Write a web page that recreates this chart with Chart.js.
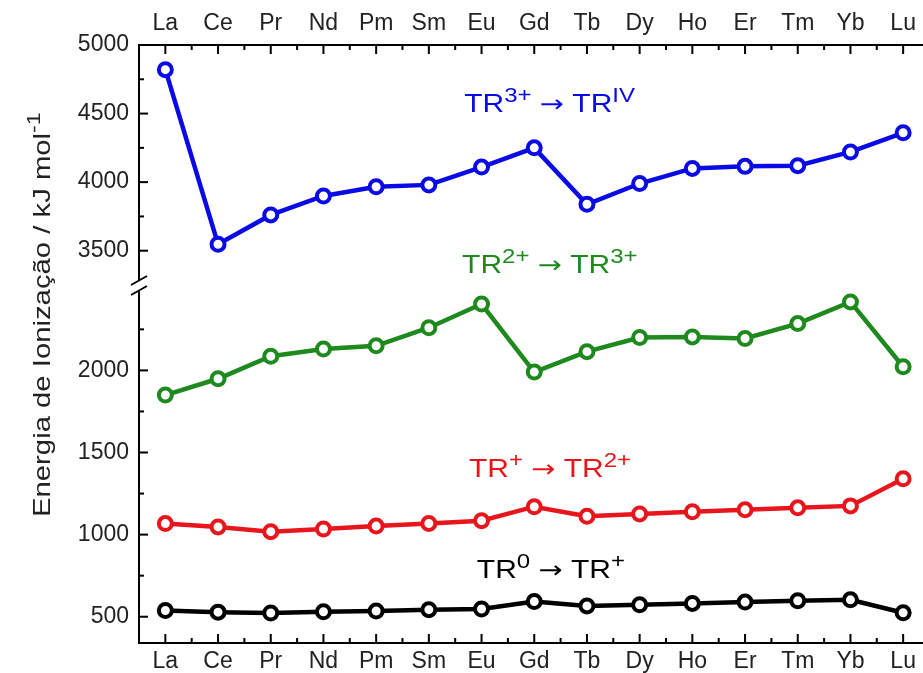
<!DOCTYPE html>
<html>
<head>
<meta charset="utf-8">
<script src="https://cdn.jsdelivr.net/npm/chart.js@4.4.0/dist/chart.umd.min.js"></script>
<style>
    html, body { margin: 0; padding: 0; background: #fff; overflow: hidden; }
    #caixa { width: 940px; height: 673px; }
</style>
</head>
<body>
<div id="caixa"><canvas id="graficoIonizacao"></canvas></div>
<script>
// ==============================
// Dados (kJ/mol)
// ==============================
const elementos = ["La", "Ce", "Pr", "Nd", "Pm", "Sm", "Eu", "Gd", "Tb", "Dy", "Ho", "Er", "Tm", "Yb", "Lu"];
const energia4 = [4820, 3547, 3761, 3899, 3966, 3980, 4110, 4250, 3839, 3990, 4100, 4115, 4120, 4220, 4360]; // TR3+ -> TRIV
const energia3 = [1850, 1949, 2086, 2130, 2150, 2260, 2404, 1990, 2114, 2200, 2204, 2194, 2285, 2417, 2022]; // TR2+ -> TR3+
const energia2 = [1067, 1047, 1018, 1034, 1052, 1068, 1085, 1170, 1112, 1126, 1139, 1151, 1163, 1175, 1340]; // TR+ -> TR2+
const energia1 = [538, 528, 523, 530, 535, 543, 547, 593, 566, 573, 581, 589, 597, 603, 524];               // TR0 -> TR+

const ticksSuperior = [3500, 4000, 4500, 5000];
const menoresSuperior = [3750, 4250, 4750];
const ticksInferior = [500, 1000, 1500, 2000];
const menoresInferior = [750, 1250, 1750, 2250];

const FONTE = '"Liberation Sans", Arial, sans-serif';
const FONTE_SETA = '"DejaVu Sans", sans-serif';
const AZUL = "#0a0ae6";
const VERDE = "#1e8a1e";
const VERMELHO = "#e8161c";
const PRETO = "#000000";

// partes do texto: [texto, tipo]  tipo: 1 = sobrescrito, 2 = seta
const anotacoes = [
    { partes: [["TR"], ["3+", 1], [" "], ["\u2192", 2], [" "], ["TR"], ["IV", 1]], cor: AZUL, eixo: "ySup", xi: 5.67, yv: 4512 },
    { partes: [["TR"], ["2+", 1], [" "], ["\u2192", 2], [" "], ["TR"], ["3+", 1]], cor: VERDE, eixo: "ySup", xi: 5.63, yv: 3340 },
    { partes: [["TR"], ["+", 1], [" "], ["\u2192", 2], [" "], ["TR"], ["2+", 1]], cor: VERMELHO, eixo: "yInf", xi: 5.76, yv: 1348 },
    { partes: [["TR"], ["0", 1], [" "], ["\u2192", 2], [" "], ["TR"], ["+", 1]], cor: PRETO, eixo: "yInf", xi: 5.91, yv: 737 }
];

function desenhaPartes(ctx, partes, x, y, tam, esticar) {
    ctx.save();
    ctx.translate(x, y);
    ctx.scale(esticar, 1);
    let cx = 0;
    partes.forEach(function (p) {
        const tipo = p[1];
        if (tipo === 1) ctx.font = Math.round(tam * 0.78) + "px " + FONTE;
        else if (tipo === 2) ctx.font = Math.round(tam * 0.95) + "px " + FONTE_SETA;
        else ctx.font = tam + "px " + FONTE;
        ctx.fillText(p[0], cx, tipo === 1 ? -tam * 0.4 : 0);
        cx += ctx.measureText(p[0]).width;
    });
    ctx.restore();
}

// ticks para dentro, quebra do eixo, anotações e título do eixo
const extras = {
    id: "extras",
    afterDraw(chart) {
        const ctx = chart.ctx;
        const area = chart.chartArea;
        const sx = chart.scales.x;
        const ySup = chart.scales.ySup;
        const yInf = chart.scales.yInf;

        function linha(x1, y1, x2, y2) {
            ctx.beginPath(); ctx.moveTo(x1, y1); ctx.lineTo(x2, y2); ctx.stroke();
        }

        ctx.save();
        ctx.strokeStyle = "#000";
        ctx.lineWidth = 2;

        elementos.forEach(function (_, i) {
            const px = sx.getPixelForValue(i);
            linha(px, area.bottom, px, area.bottom - 9);
            linha(px, area.top, px, area.top + 9);
            const pm = sx.getPixelForValue(i + 0.5);
            linha(pm, area.bottom, pm, area.bottom - 5);
            linha(pm, area.top, pm, area.top + 5);
        });

        ticksSuperior.forEach(v => { const py = ySup.getPixelForValue(v); linha(area.left, py, area.left + 9, py); });
        menoresSuperior.forEach(v => { const py = ySup.getPixelForValue(v); linha(area.left, py, area.left + 5, py); });
        ticksInferior.forEach(v => { const py = yInf.getPixelForValue(v); linha(area.left, py, area.left + 9, py); });
        menoresInferior.forEach(v => { const py = yInf.getPixelForValue(v); linha(area.left, py, area.left + 5, py); });

        // quebra do eixo
        const jy = ySup.bottom;
        ctx.fillStyle = "#fff";
        ctx.fillRect(area.left - 3, jy - 5, 6, 10);
        linha(area.left - 8, jy, area.left + 8, jy - 9);
        linha(area.left - 8, jy + 10, area.left + 8, jy + 1);

        // anotações
        ctx.textBaseline = "alphabetic";
        ctx.textAlign = "left";
        anotacoes.forEach(function (a) {
            ctx.fillStyle = a.cor;
            const px = sx.getPixelForValue(a.xi);
            const py = chart.scales[a.eixo].getPixelForValue(a.yv);
            desenhaPartes(ctx, a.partes, px, py, 25, 1.2);
        });

        // título do eixo y
        const titulo = [["Energia de Ionização / kJ mol"], ["-1", 1]];
        ctx.fillStyle = "#222";
        ctx.translate(50, 517);
        ctx.rotate(-Math.PI / 2);
        desenhaPartes(ctx, titulo, 0, 0, 24, 1.22);
        ctx.restore();
    }
};

function serie(label, dados, cor, eixo) {
    return {
        label: label,
        data: dados,
        yAxisID: eixo,
        borderColor: cor,
        backgroundColor: "#fff",
        borderWidth: 4.5,
        pointRadius: 6.5,
        pointBorderWidth: 4,
        pointBackgroundColor: "#fff",
        pointBorderColor: cor,
        tension: 0
    };
}

const fonteTicks = { family: FONTE, size: 23 };
const semVirgula = v => String(v);

new Chart(document.getElementById("graficoIonizacao"), {
    type: "line",
    data: {
        labels: elementos,
        datasets: [
            serie("TR3+ \u2192 TRIV", energia4, AZUL, "ySup"),
            serie("TR2+ \u2192 TR3+", energia3, VERDE, "yInf"),
            serie("TR+ \u2192 TR2+", energia2, VERMELHO, "yInf"),
            serie("TR0 \u2192 TR+", energia1, PRETO, "yInf")
        ]
    },
    options: {
        responsive: true,
        maintainAspectRatio: false,
        animation: false,
        layout: { padding: { right: 8 } },
        plugins: { legend: { display: false }, tooltip: { enabled: false } },
        scales: {
            x: {
                type: "category",
                position: "bottom",
                offset: true,
                grid: { drawOnChartArea: false, drawTicks: false },
                border: { color: "#000", width: 2 },
                ticks: { color: "#222", font: fonteTicks, padding: 5, autoSkip: false, maxRotation: 0 },
                afterFit: s => { s.height = 30; }
            },
            xTopo: {
                type: "category",
                position: "top",
                labels: elementos,
                offset: true,
                grid: { drawOnChartArea: false, drawTicks: false },
                border: { color: "#000", width: 2 },
                ticks: { color: "#222", font: fonteTicks, padding: 8, autoSkip: false, maxRotation: 0 },
                afterFit: s => { s.height = 45; }
            },
            yInf: {
                type: "linear",
                position: "left",
                stack: "y",
                stackWeight: 358,
                min: 340,
                max: 2520,
                grid: { drawOnChartArea: false, drawTicks: false },
                border: { color: "#000", width: 2 },
                ticks: { color: "#222", font: fonteTicks, padding: 10, callback: semVirgula },
                afterBuildTicks: s => { s.ticks = ticksInferior.map(v => ({ value: v })); },
                afterFit: s => { s.width = 139; }
            },
            ySup: {
                type: "linear",
                position: "left",
                stack: "y",
                stackWeight: 240,
                min: 3250,
                max: 5000,
                grid: { drawOnChartArea: false, drawTicks: false },
                border: { color: "#000", width: 2 },
                ticks: { color: "#222", font: fonteTicks, padding: 10, callback: semVirgula },
                afterBuildTicks: s => { s.ticks = ticksSuperior.map(v => ({ value: v })); },
                afterFit: s => { s.width = 139; }
            }
        }
    },
    plugins: [extras]
});
</script>
</body>
</html>
